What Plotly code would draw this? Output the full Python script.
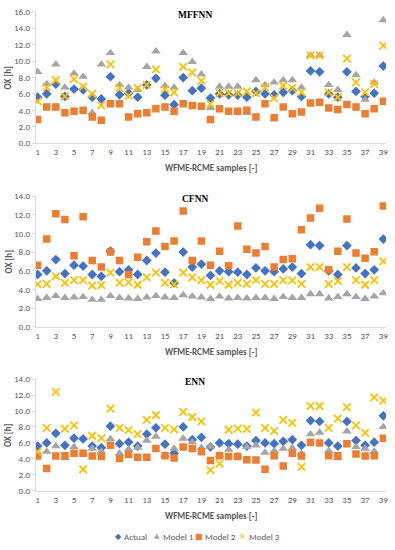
import plotly.graph_objects as go

samples = list(range(1, 40))

actual = [5.6, 6.0, 7.2, 5.7, 6.6, 6.5, 5.6, 5.4, 8.1, 5.9, 6.1, 5.6, 7.1, 7.9, 5.85, 4.7, 8.0, 6.4, 6.7, 5.5,
          6.0, 5.9, 5.85, 5.6, 6.3, 6.0, 5.9, 6.2, 6.4, 5.7, 8.8, 8.7, 6.0, 5.6, 8.7, 6.3, 5.7, 6.1, 9.4]

# MFFNN
mffnn_m1 = [8.7, 7.2, 9.6, 6.8, 8.5, 8.1, 3.7, 9.6, 11.0, 7.1, 6.8, 6.5, 9.3, 11.2, 7.0, 6.8, 11.0, 9.9, 8.4, 4.3,
            6.9, 6.9, 6.9, 3.7, 7.7, 7.1, 7.4, 7.7, 7.7, 6.8, 10.7, 10.7, 7.1, 6.5, 13.2, 8.3, 5.3, 7.4, 15.0]
mffnn_m2 = [2.9, 4.4, 4.4, 3.7, 3.9, 4.0, 3.2, 2.8, 4.8, 4.8, 3.2, 3.6, 3.7, 4.2, 4.4, 3.9, 4.8, 4.6, 4.5, 2.9,
            4.2, 3.9, 3.9, 4.0, 3.2, 4.8, 3.1, 4.4, 3.6, 3.8, 4.9, 5.0, 4.3, 4.1, 4.7, 4.4, 3.6, 4.2, 5.1]
mffnn_m3 = [5.1, 6.8, 7.7, 5.7, 7.8, 6.9, 6.0, 4.6, 9.6, 6.7, 5.8, 6.7, 7.1, 9.0, 6.6, 6.2, 9.3, 8.6, 7.6, 4.8,
            6.1, 6.1, 6.1, 6.3, 6.1, 6.8, 5.5, 7.0, 6.7, 6.2, 10.7, 10.7, 6.2, 5.6, 10.3, 7.4, 6.2, 7.2, 11.9]

# CFNN
cfnn_m1 = [3.0, 3.1, 3.3, 3.1, 3.15, 3.2, 2.9, 2.9, 3.3, 3.1, 3.05, 3.0, 3.15, 3.3, 3.15, 3.1, 3.4, 3.25, 3.15, 3.0,
           3.25, 3.05, 3.1, 3.05, 3.1, 3.1, 3.0, 3.2, 3.1, 3.1, 3.5, 3.5, 3.05, 3.2, 3.5, 3.2, 3.0, 3.25, 3.6]
cfnn_m2 = [6.6, 9.4, 12.1, 11.5, 7.6, 11.8, 7.1, 6.4, 8.0, 7.1, 5.6, 7.45, 9.1, 10.25, 8.6, 9.2, 12.4, 7.1, 9.2, 6.6,
           8.1, 6.55, 10.8, 8.3, 7.9, 8.6, 6.4, 7.2, 7.3, 10.4, 11.65, 12.7, 6.1, 8.1, 11.55, 7.9, 7.35, 8.05, 12.95]
cfnn_m3 = [4.55, 4.6, 5.4, 4.7, 5.0, 5.0, 4.4, 4.45, 5.8, 4.7, 4.75, 4.5, 5.3, 5.8, 4.7, 4.55, 5.8, 5.3, 5.0, 4.5,
           4.9, 4.5, 4.7, 4.6, 5.0, 4.6, 4.6, 5.0, 4.97, 4.6, 6.4, 6.4, 4.6, 4.9, 6.4, 5.0, 4.5, 5.0, 7.0]

# ENN
enn_m1 = [4.6, 4.9, 5.6, 4.1, 5.5, 4.7, 5.3, 4.95, 6.5, 4.7, 5.2, 5.4, 6.3, 6.8, 4.5, 5.3, 6.55, 6.1, 5.4, 5.55,
          4.5, 5.15, 4.4, 5.5, 5.7, 4.8, 5.0, 5.3, 5.35, 4.7, 7.1, 7.3, 5.0, 4.1, 7.45, 5.5, 5.3, 4.95, 8.0]
enn_m2 = [4.35, 2.8, 4.35, 4.4, 4.7, 4.7, 4.35, 4.3, 5.7, 4.05, 4.55, 4.2, 4.2, 5.3, 4.4, 4.1, 5.5, 5.3, 4.9, 3.8,
          4.4, 4.3, 4.3, 3.9, 3.85, 2.7, 4.4, 3.1, 4.7, 4.35, 6.1, 6.0, 4.4, 4.4, 5.9, 4.6, 4.35, 4.4, 6.6]
enn_m3 = [4.9, 7.9, 12.4, 7.8, 8.2, 2.7, 6.9, 6.6, 10.3, 7.9, 7.6, 7.1, 8.9, 9.5, 7.9, 7.7, 9.9, 9.25, 8.7, 2.6,
          3.4, 7.65, 7.8, 7.75, 9.8, 7.9, 7.5, 8.9, 8.5, 3.0, 10.6, 10.6, 7.9, 9.05, 10.5, 8.2, 7.25, 11.7, 11.3]

panel_titles = ["MFFNN", "CFNN", "ENN"]
series_names = ["Actual", "Model 1", "Model 2", "Model 3"]
series_colors = ["#4472C4", "#A5A5A5", "#ED7D31", "#FFC000"]
legend_glyphs = ["◆", "▲", "■", "✕"]
x_ticks = list(range(1, 40, 2))

W, H = 395, 550
def fy(px):
    return 1 - px / H
def fx(px):
    return px / W

panels = [
    dict(data=[actual, mffnn_m1, mffnn_m2, mffnn_m3], top=6, bot=140, ymax=16),
    dict(data=[actual, cfnn_m1, cfnn_m2, cfnn_m3], top=194, bot=327.3, ymax=14),
    dict(data=[actual, enn_m1, enn_m2, enn_m3], top=380.7, bot=494.7, ymax=14),
]

styles = [
    dict(symbol="diamond", size=7.5, color=series_colors[0], line=dict(width=0)),
    dict(symbol="triangle-up", size=8.5, color=series_colors[1], line=dict(width=0)),
    dict(symbol="square", size=7.5, color=series_colors[2], line=dict(width=0)),
    dict(symbol="x-thin", size=7.5, color=series_colors[3], line=dict(width=1.8, color=series_colors[3])),
]

fig = go.Figure()
grey = "#595959"
FONT = "Carlito, Lato, Liberation Sans, Arial"
axis_font = dict(family=FONT, size=9, color=grey)

for i, p in enumerate(panels):
    xa = "x" if i == 0 else f"x{i+1}"
    ya = "y" if i == 0 else f"y{i+1}"
    for j, (name, st) in enumerate(zip(series_names, styles)):
        fig.add_trace(go.Scatter(
            x=samples, y=p["data"][j], mode="markers", name=name,
            marker=st, xaxis=xa, yaxis=ya, showlegend=False,
        ))
    xkey = "xaxis" if i == 0 else f"xaxis{i+1}"
    ykey = "yaxis" if i == 0 else f"yaxis{i+1}"
    fig.update_layout(**{
        xkey: dict(domain=[fx(36), fx(388)], range=[0.8, 39.3], anchor=ya,
                   tickvals=x_ticks, ticktext=[str(t) for t in x_ticks],
                   showgrid=False, zeroline=False, showline=True, linecolor="#D9D9D9",
                   linewidth=1, ticks="", tickfont=axis_font),
        ykey: dict(domain=[fy(p["bot"]), fy(p["top"])], range=[0, p["ymax"]], anchor=xa,
                   dtick=2, tickformat=".1f", showgrid=False, zeroline=False,
                   showline=True, linecolor="#D9D9D9", linewidth=1,
                   ticks="outside", ticklen=3, tickcolor="#D9D9D9", tickfont=axis_font),
    })
    fig.add_annotation(text="<b>" + panel_titles[i] + "</b>", x=fx(196), y=fy(p["top"] + 3),
                       xref="paper", yref="paper", showarrow=False,
                       font=dict(family="Liberation Serif, Times New Roman", size=9.5, color="#000000"),
                       xanchor="center", yanchor="middle")
    fig.add_annotation(text="<b>WFME-RCME samples [-]</b>", x=fx(212), y=fy(p["bot"] + 25),
                       xref="paper", yref="paper", showarrow=False,
                       font=dict(family=FONT, size=9, color=grey),
                       xanchor="center", yanchor="middle")
    fig.add_annotation(text="<b>OX [h]</b>", x=fx(8), y=fy((p["top"] + p["bot"]) / 2),
                       xref="paper", yref="paper", showarrow=False, textangle=-90,
                       font=dict(family=FONT, size=9, color=grey),
                       xanchor="center", yanchor="middle")

# legend (compact, Excel-like) as text entries
legend_marker_x = [119, 158, 200, 244]
glyph_sizes = [8, 7, 8, 8]
for k in range(4):
    fig.add_annotation(text=legend_glyphs[k], x=fx(legend_marker_x[k]), y=fy(541),
                       xref="paper", yref="paper", showarrow=False,
                       font=dict(family="DejaVu Sans", size=glyph_sizes[k], color=series_colors[k]),
                       xanchor="center", yanchor="middle")
    fig.add_annotation(text=series_names[k], x=fx(legend_marker_x[k] + 4), y=fy(541),
                       xref="paper", yref="paper", showarrow=False,
                       font=dict(family=FONT, size=9, color=grey),
                       xanchor="left", yanchor="middle")

fig.update_layout(
    width=W, height=H,
    margin=dict(l=0, r=0, t=0, b=0),
    paper_bgcolor="white", plot_bgcolor="white",
    showlegend=False,
)

fig.write_html("out.html", config={"displayModeBar": False},
               post_script="document.body.style.margin='0';document.body.style.overflow='hidden';")
